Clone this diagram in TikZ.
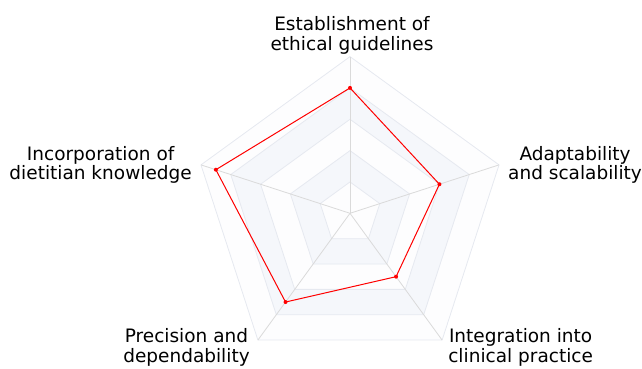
\documentclass[tikz,border=0pt]{standalone}
\usepackage{fontspec}
\setmainfont{DejaVu Sans}
\usetikzlibrary{positioning}
\definecolor{bandlight}{HTML}{FDFDFE}
\definecolor{bandshade}{HTML}{F5F7FB}
\definecolor{ringline}{HTML}{E6E9F0}
\definecolor{spokeline}{HTML}{DADADA}
\newcommand{\radR}{156.7}
\begin{document}
\begin{tikzpicture}[x=1pt,y=1pt,
	band/.style={draw=ringline,line width=0.8pt},
	spoke/.style={draw=spokeline,line width=0.8pt},
	series/.style={draw=red,line width=1pt,line join=round},
	dot/.style={circle,fill=red,inner sep=0pt,minimum size=4pt},
	every node/.style={align=center,inner sep=0pt,font=\fontsize{18.5}{19.5}\selectfont}]
	\useasboundingbox (0,0) rectangle (642,369);
	\begin{scope}[shift={(350,155.7)}]
	\coordinate (c) at (0,0);
	% rings
	\foreach \r/\col in {1/bandlight,0.8/bandshade,0.6/bandlight,0.4/bandshade,0.2/bandlight}
		\filldraw[band,fill=\col] (90:\r*\radR) -- (18:\r*\radR) -- (-54:\r*\radR) -- (-126:\r*\radR) -- (162:\r*\radR) -- cycle;
	% axes
	\foreach \a [count=\i] in {90,18,-54,-126,162}
		\coordinate (v\i) at (\a:\radR);
	\foreach \i in {1,...,5}
		\draw[spoke] (c) -- (v\i);
	% values
	\foreach \a/\v [count=\i] in {90/0.8,18/0.6,-54/0.5,-126/0.7,162/0.9}
		\coordinate (p\i) at (\a:\v*\radR);
	\draw[series] (p1) -- (p2) -- (p3) -- (p4) -- (p5) -- cycle;
	\foreach \i in {1,...,5}
		\node[dot] (d\i) at (p\i) {};
	\end{scope}
	% labels
	\node[above=2.5pt of v1,xshift=2pt] (ethics) {Establishment of\\ethical guidelines};
	\node[right=9pt of v2] (adapt) {Adaptability\\and scalability};
	\node[right=6pt of v3,yshift=-7.5pt] (integr) {Integration into\\clinical practice};
	\node[left=8pt of v4,yshift=-7.5pt] (precis) {Precision and\\dependability};
	\node[left=9pt of v5] (incorp) {Incorporation of\\dietitian knowledge};
\end{tikzpicture}
\end{document}
